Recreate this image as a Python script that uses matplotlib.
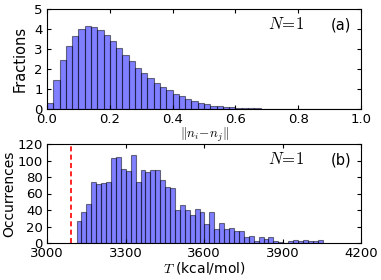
import numpy as np
import matplotlib
matplotlib.use("Agg")
import matplotlib.pyplot as plt

# ---- data ----
# (a) distance histogram, 50 bins on [0, 1]
dist_edges = np.linspace(0.0, 1.0, 51)
dist_frac = [0.32, 1.47, 2.45, 3.17, 3.65, 3.98, 4.13, 4.10, 3.95, 3.72,
             3.38, 3.03, 2.68, 2.38, 2.05, 1.78, 1.53, 1.32, 1.12, 0.93,
             0.77, 0.63, 0.50, 0.40, 0.30, 0.23, 0.17, 0.13, 0.10, 0.08,
             0.06, 0.05, 0.04, 0.03, 0.02, 0.015, 0.01, 0.008, 0.005, 0.003,
             0, 0, 0, 0, 0, 0, 0, 0, 0, 0]

# (b) energy histogram, 50 bins between min and max
T_min, T_max = 3113, 4053
T_edges = np.linspace(T_min, T_max, 51)
T_counts = [27, 37, 47, 74, 71, 73, 74, 103, 104, 90,
            87, 107, 74, 89, 86, 89, 89, 76, 68, 67,
            40, 46, 40, 34, 41, 37, 23, 38, 17, 24,
            17, 18, 15, 14, 7, 8, 3, 7, 5, 7,
            2, 1, 0, 3, 4, 3, 4, 2, 3, 4]
T_ref = 3093   # red dashed reference line

plt.rcParams.update({
    "font.family": "DejaVu Sans",
    "font.size": 9.5,
    "mathtext.fontset": "cm",
    "xtick.direction": "in",
    "ytick.direction": "in",
    "xtick.top": True,
    "ytick.right": True,
    "xtick.major.size": 3,
    "ytick.major.size": 3,
    "xtick.major.pad": 3,
    "ytick.major.pad": 3,
    "axes.linewidth": 0.8,
})

fig = plt.figure(figsize=(3.81, 2.80), dpi=100)
ax1 = fig.add_axes([47/381, 1 - 109/280, 314/381, 100/280])
ax2 = fig.add_axes([47/381, 1 - 243/280, 314/381, 99/280])

bar_kw = dict(align="edge", color=(0.0, 0.0, 1.0), alpha=0.5,
              edgecolor="k", linewidth=0.8)

# --- panel (a) ---
ax1.bar(dist_edges[:-1], dist_frac, width=np.diff(dist_edges), **bar_kw)
ax1.set_xlim(0, 1)
ax1.set_ylim(0, 5)
ax1.set_xticks(np.arange(0, 1.01, 0.2))
ax1.set_yticks(range(0, 6))
ax1.set_ylabel("Fractions", fontsize=10.5, labelpad=5)
ax1.set_xlabel(r"$\Vert n_i\!-\!n_j\Vert$", fontsize=9.5, labelpad=0)
ax1.text(0.76, 0.85, r"$N\!=\!1$", transform=ax1.transAxes,
         fontsize=12, ha="center", va="center")
ax1.text(0.97, 0.84, "(a)", transform=ax1.transAxes,
         fontsize=10.5, ha="right", va="center")

# --- panel (b) ---
ax2.bar(T_edges[:-1], T_counts, width=np.diff(T_edges), **bar_kw)
ax2.axvline(T_ref, color="r", linestyle=(0, (3, 2)), linewidth=1.2)
ax2.set_xlim(3000, 4200)
ax2.set_ylim(0, 120)
ax2.set_xticks(range(3000, 4201, 300))
ax2.set_yticks(range(0, 121, 20))
ax2.set_ylabel("Occurrences", fontsize=10, labelpad=1)
ax2.set_xlabel(r"$T$ (kcal/mol)", fontsize=10, labelpad=0)
ax2.text(0.76, 0.85, r"$N\!=\!1$", transform=ax2.transAxes,
         fontsize=12, ha="center", va="center")
ax2.text(0.97, 0.84, "(b)", transform=ax2.transAxes,
         fontsize=10.5, ha="right", va="center")

fig.savefig("out.png", dpi=100)
